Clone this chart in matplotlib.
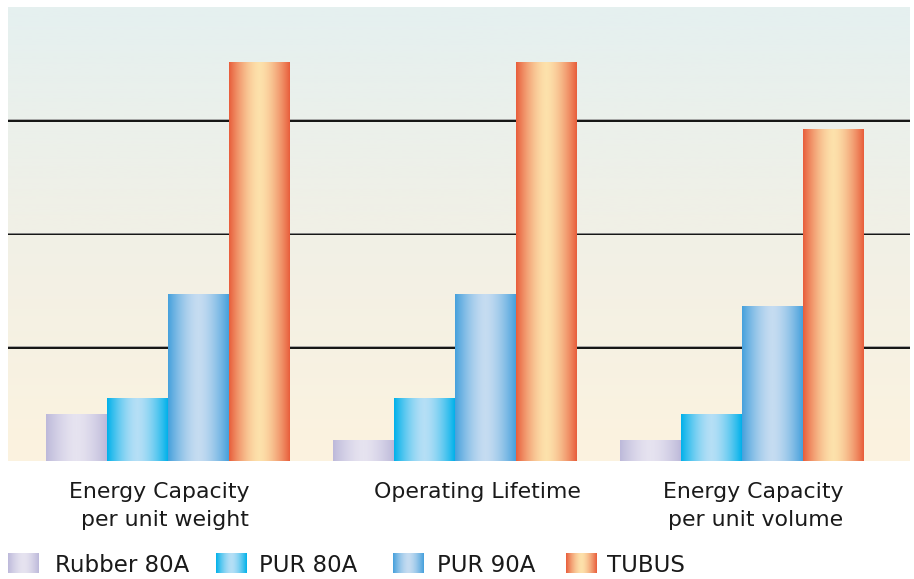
import numpy as np
import matplotlib
matplotlib.use('Agg')
import matplotlib.pyplot as plt
import matplotlib.transforms as mtransforms
from matplotlib.colors import LinearSegmentedColormap

categories = ['Energy Capacity\nper unit weight', 'Operating Lifetime', 'Energy Capacity\nper unit volume']
series = ['Rubber 80A', 'PUR 80A', 'PUR 90A', 'TUBUS']
rubber_80a = [0.41, 0.18, 0.18]
pur_80a = [0.55, 0.55, 0.41]
pur_90a = [1.47, 1.47, 1.36]
tubus = [3.51, 3.51, 2.92]
values = [rubber_80a, pur_80a, pur_90a, tubus]

# edge colour / centre colour of the "cylinder" shading
shades = [('#bdb9da', '#e6e3f0'),
          ('#00b1ea', '#b5dff6'),
          ('#45a0dc', '#c5dcf1'),
          ('#e85d3b', '#fde1ab')]

plt.rcParams['font.family'] = ['DejaVu Sans']

fig = plt.figure(figsize=(9.14, 5.79), dpi=100)
ax = fig.add_axes([8 / 914, 118 / 579, 902 / 914, 454 / 579])

# background gradient, teal-grey at top to cream at bottom
bg = LinearSegmentedColormap.from_list('bg', ['#fcf3df', '#f1f0e6', '#e5f0f0'], N=1024)
ax.imshow(np.linspace(0, 1, 512).reshape(-1, 1), cmap=bg, origin='lower',
          extent=[0, 1, 0, 1], transform=ax.transAxes, aspect='auto', zorder=0)

for g in [1, 2, 3]:
    ax.axhline(g, color='#111111', lw=1.4, zorder=1)
    ax.axhline(g + 0.012, color='#999999', lw=0.6, zorder=1)

x = np.arange(len(categories))
width = 0.2125
grad = 1 - np.abs(np.linspace(-1, 1, 256)).reshape(1, -1) ** 1.6

for i, vals in enumerate(values):
    cmap = LinearSegmentedColormap.from_list('s%d' % i, list(shades[i]))
    bars = ax.bar(x + (i - 1.5) * width, vals, width, color='none', edgecolor='none')
    for b in bars:
        ax.imshow(grad, cmap=cmap, vmin=0, vmax=1, aspect='auto', zorder=3,
                  extent=[b.get_x(), b.get_x() + b.get_width(), 0, b.get_height()])

ax.set_xlim(-0.556, 2.587)
ax.set_ylim(0, 4)
ax.set_xticks([])
ax.set_yticks([])
for s in ax.spines.values():
    s.set_visible(False)

# category labels under the groups
label_x = [-0.03, 1.08, 2.04]
trans = mtransforms.blended_transform_factory(ax.transData, fig.transFigure)
for lx, lab in zip(label_x, categories):
    fig.text(lx, 1 - 482 / 579, lab, transform=trans, ha='center', va='top',
             multialignment='right', fontsize=15.8, color='#1a1a1a',
             linespacing=1.5)

# legend row
leg = fig.add_axes([0, 0, 1, 40 / 579])
leg.set_xlim(0, 914)
leg.set_ylim(0, 40)
leg.axis('off')
patch_x = [8, 216, 393, 566]
text_x = [55, 259, 437, 607]
for i, name in enumerate(series):
    cmap = LinearSegmentedColormap.from_list('l%d' % i, list(shades[i]))
    leg.imshow(grad, cmap=cmap, vmin=0, vmax=1, aspect='auto',
               extent=[patch_x[i], patch_x[i] + 31, 6, 26])
    leg.text(text_x[i], 14, name, va='center', ha='left', fontsize=16.5,
             color='#1a1a1a')
leg.set_xlim(0, 914)
leg.set_ylim(0, 40)

fig.savefig('out.png', dpi=100)
